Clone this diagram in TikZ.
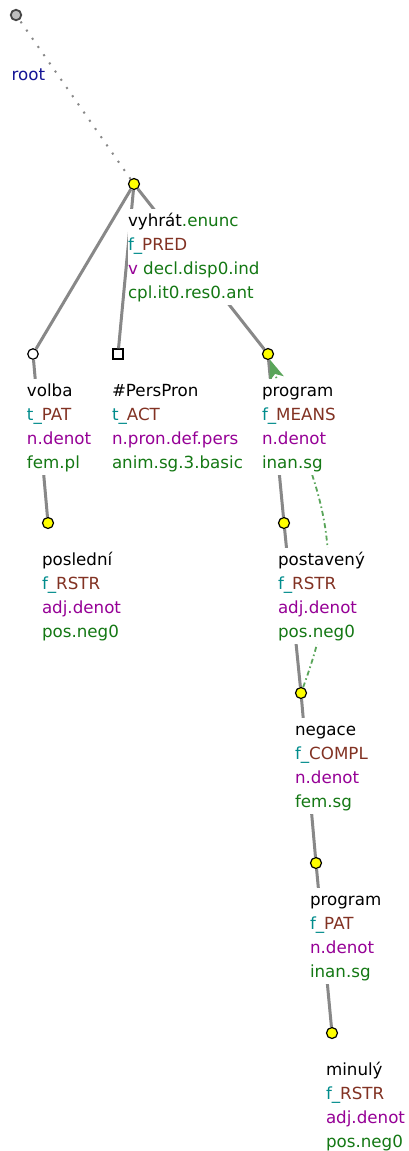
\documentclass[tikz,border=0pt]{standalone}
\usepackage{fontspec}
\setmainfont{DejaVu Sans}
\usetikzlibrary{arrows.meta}
\definecolor{cgreen}{RGB}{20,120,20}
\definecolor{cteal}{RGB}{0,140,140}
\definecolor{cbrown}{RGB}{130,50,35}
\definecolor{cpurple}{RGB}{150,0,150}
\definecolor{cblue}{RGB}{20,20,150}
\definecolor{cedge}{RGB}{136,136,136}
\definecolor{ccoref}{RGB}{90,165,90}
\definecolor{cyel}{RGB}{255,255,0}
\newcommand\ttlab[4]{\node[lbl] (#1) at ({#2-6.5},{#3+25.2}) {#4};}
\newcommand\fn[2]{\textcolor{cteal}{#1\_}\textcolor{cbrown}{#2}}
\tikzset{
  tnode/.style={circle,draw=black,line width=1.2pt,fill=cyel,minimum size=11pt,inner sep=0pt},
  wnode/.style={circle,draw=black,line width=1.2pt,fill=white,minimum size=10.5pt,inner sep=0pt},
  sqnode/.style={rectangle,draw=black,line width=1.2pt,fill=white,minimum size=10pt,inner sep=0pt},
  rootnode/.style={circle,draw={rgb,255:red,70;green,70;blue,70},line width=1.8pt,fill={rgb,255:red,190;green,190;blue,190},minimum size=10.5pt,inner sep=0pt},
  edge/.style={draw=cedge,line width=3pt},
  rootedge/.style={draw=cedge,line width=2pt,dash pattern=on 2pt off 8pt},
  coref/.style={draw=ccoref,line width=1.8pt,dash pattern=on 5pt off 3pt on 1.5pt off 3pt,
    -{Stealth[length=20pt,width=15pt,inset=5pt,fill=ccoref]}},
  lbl/.style={anchor=north west,fill=white,inner xsep=0.3pt,inner ysep=0pt,align=left,
    font=\fontsize{16.7}{24}\selectfont}
}
\begin{document}
\begin{tikzpicture}[x=1pt,y=-1pt]
\useasboundingbox[fill=white] (0,0) rectangle (408,1151);
% nodes
\node[rootnode] (root) at (16,15) {};
\node[tnode] (vyh) at (134,184) {};
\node[wnode] (volba) at (33,354) {};
\node[sqnode] (pers) at (118,354) {};
\node[tnode] (prog) at (268,354) {};
\node[tnode] (posl) at (48,523) {};
\node[tnode] (post) at (284,523) {};
\node[tnode] (neg) at (301,693) {};
\node[tnode] (progb) at (316,863) {};
\node[tnode] (minu) at (332,1033) {};
% edges
\draw[rootedge] (vyh) -- (root);
\draw[edge] (volba) -- (vyh);
\draw[edge] (pers) -- (vyh);
\draw[edge] (prog) -- (vyh);
\draw[edge] (posl) -- (volba);
\draw[edge] (post) -- (prog);
\draw[edge] (neg) -- (post);
\draw[edge] (progb) -- (neg);
\draw[edge] (minu) -- (progb);
\draw[coref] (neg) .. controls +(55.5,-150) and +(45.5,130) .. (prog);
% labels
\node[anchor=base west,inner sep=0pt,font=\fontsize{16.7}{24}\selectfont,text=cblue] (lroot) at (11.5,80) {root};
\ttlab{lvyh}{134}{184}{\strut vyhrát\textcolor{cgreen}{.enunc}\\\strut\fn{f}{PRED}\\\strut\textcolor{cpurple}{v} \textcolor{cgreen}{decl.disp0.ind}\\\strut\textcolor{cgreen}{cpl.it0.res0.ant}}
\ttlab{lvolba}{33}{354}{\strut volba\\\strut\fn{t}{PAT}\\\strut\textcolor{cpurple}{n.denot}\\\strut\textcolor{cgreen}{fem.pl}}
\ttlab{lpers}{118}{354}{\strut \#PersPron\\\strut\fn{t}{ACT}\\\strut\textcolor{cpurple}{n.pron.def.pers}\\\strut\textcolor{cgreen}{anim.sg.3.basic}}
\ttlab{lprog}{268}{354}{\strut program\\\strut\fn{f}{MEANS}\\\strut\textcolor{cpurple}{n.denot}\\\strut\textcolor{cgreen}{inan.sg}}
\ttlab{lposl}{48}{523}{\strut poslední\\\strut\fn{f}{RSTR}\\\strut\textcolor{cpurple}{adj.denot}\\\strut\textcolor{cgreen}{pos.neg0}}
\ttlab{lpost}{284}{523}{\strut postavený\\\strut\fn{f}{RSTR}\\\strut\textcolor{cpurple}{adj.denot}\\\strut\textcolor{cgreen}{pos.neg0}}
\ttlab{lneg}{301}{693}{\strut negace\\\strut\fn{f}{COMPL}\\\strut\textcolor{cpurple}{n.denot}\\\strut\textcolor{cgreen}{fem.sg}}
\ttlab{lprogb}{316}{863}{\strut program\\\strut\fn{f}{PAT}\\\strut\textcolor{cpurple}{n.denot}\\\strut\textcolor{cgreen}{inan.sg}}
\ttlab{lminu}{332}{1033}{\strut minulý\\\strut\fn{f}{RSTR}\\\strut\textcolor{cpurple}{adj.denot}\\\strut\textcolor{cgreen}{pos.neg0}}
\end{tikzpicture}
\end{document}
